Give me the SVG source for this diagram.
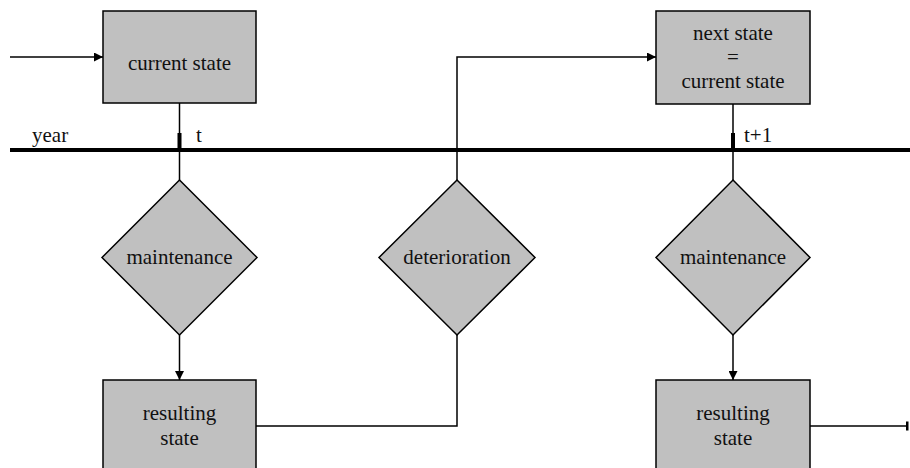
<svg xmlns="http://www.w3.org/2000/svg" width="910" height="468" viewBox="0 0 910 468" font-family="Liberation Serif, Times New Roman, serif">
<style>
.node{fill:#c0c0c0;stroke:#000;stroke-width:1.5}
text{font-family:"Liberation Serif",serif;font-size:21px;fill:#111}
.lbl{text-anchor:middle}
.conn{fill:none;stroke:#000;stroke-width:1.5}
</style>
<defs>
<marker id="arr" viewBox="0 0 10 10" refX="10" refY="5" markerWidth="9" markerHeight="9" markerUnits="userSpaceOnUse" orient="auto">
<path d="M0,0 L10,5 L0,10 z" fill="#000"/>
</marker>
<marker id="bar" viewBox="0 0 4 12" refX="2" refY="6" markerWidth="3" markerHeight="12" markerUnits="userSpaceOnUse" orient="auto">
<rect x="0" y="0" width="4" height="12" fill="#000"/>
</marker>
</defs>
<g id="timeline">
<line x1="10" y1="150" x2="910" y2="150" stroke="#000" stroke-width="4"/>
<text x="32" y="142">year</text>
<text x="196" y="142">t</text>
<text x="744" y="142">t+1</text>
<rect x="177.5" y="133" width="4" height="17" fill="#000"/>
<rect x="731" y="133" width="4" height="17" fill="#000"/>
</g>
<g id="connectors">
<path class="conn" d="M10,57 H103" marker-end="url(#arr)"/>
<path class="conn" d="M179.5,103 V180"/>
<path class="conn" d="M179.5,335 V380" marker-end="url(#arr)"/>
<path class="conn" d="M256,426 H457 V335"/>
<path class="conn" d="M457,180 V57 H656" marker-end="url(#arr)"/>
<path class="conn" d="M733,104 V180"/>
<path class="conn" d="M733,335 V380" marker-end="url(#arr)"/>
<path class="conn" d="M810,426 H907" marker-end="url(#bar)"/>
</g>
<g id="current-state">
<rect class="node" x="103" y="11" width="153" height="92"/>
<text class="lbl" x="179.5" y="70">current state</text>
</g>
<g id="maintenance-1">
<polygon class="node" points="179.5,180 257,257.5 179.5,335 102,257.5"/>
<text class="lbl" x="179.5" y="264">maintenance</text>
</g>
<g id="resulting-state-1">
<rect class="node" x="103" y="380" width="153" height="100"/>
<text class="lbl" x="179.5" y="420">resulting</text>
<text class="lbl" x="179.5" y="445">state</text>
</g>
<g id="deterioration">
<polygon class="node" points="457,180 535,257.5 457,335 379,257.5"/>
<text class="lbl" x="457" y="264">deterioration</text>
</g>
<g id="next-state">
<rect class="node" x="656" y="11" width="154" height="93"/>
<text class="lbl" x="733" y="40">next state</text>
<text class="lbl" x="733" y="64">=</text>
<text class="lbl" x="733" y="88">current state</text>
</g>
<g id="maintenance-2">
<polygon class="node" points="733,180 810,257.5 733,335 656,257.5"/>
<text class="lbl" x="733" y="264">maintenance</text>
</g>
<g id="resulting-state-2">
<rect class="node" x="656" y="380" width="154" height="100"/>
<text class="lbl" x="733" y="420">resulting</text>
<text class="lbl" x="733" y="445">state</text>
</g>
</svg>
